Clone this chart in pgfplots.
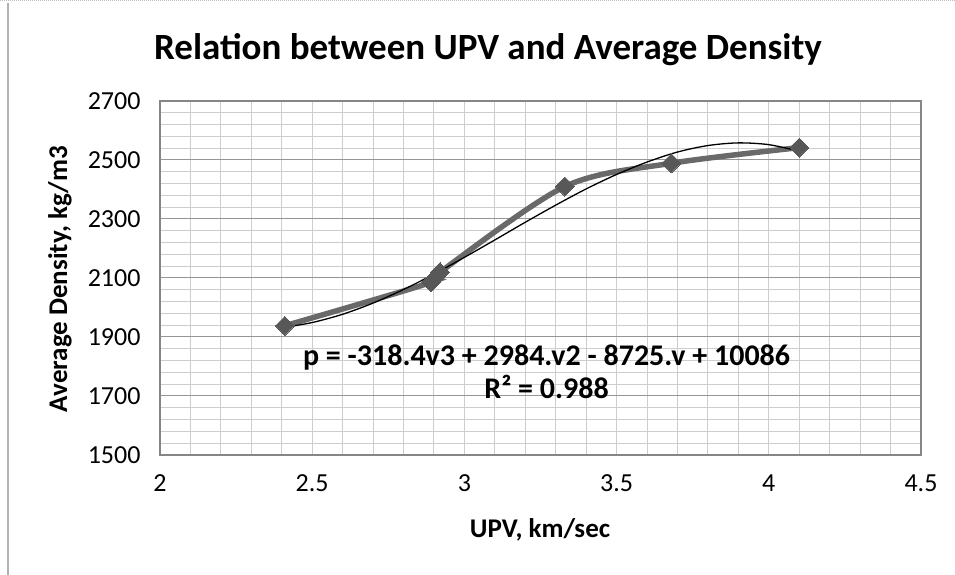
\documentclass[border=0pt]{standalone}
\usepackage{fontspec}
\setmainfont{Carlito}
\usepackage{pgfplots}
\pgfplotsset{compat=1.18}
\definecolor{gridmaj}{RGB}{150,150,150}
\definecolor{gridmin}{RGB}{205,205,205}
\definecolor{serie}{RGB}{105,105,105}
\definecolor{markc}{RGB}{88,88,88}
\definecolor{boxc}{RGB}{134,134,134}

\begin{document}
\begin{tikzpicture}[x=1pt,y=1pt]
\useasboundingbox (0,0) rectangle (955,575);
\fill[white] (0,0) rectangle (955,575);
\draw[gray!60, line width=1.2pt] (8,0) -- (8,572);
\draw[gray!50, densely dotted, line width=1pt] (0,574) -- (955,574);
\node[font=\bfseries\fontsize{37}{44}\selectfont] at (488,525) {Relation between UPV and Average Density};
\node[font=\bfseries\fontsize{27}{32}\selectfont] at (540,45) {UPV, km/sec};
\node[font=\bfseries\fontsize{27}{32}\selectfont, rotate=90] at (60,296) {Average Density, kg/m3};
\begin{axis}[at={(160pt,120pt)}, anchor=south west, scale only axis,
  width=761pt, height=354pt,
  xmin=2, xmax=4.5, ymin=1500, ymax=2700,
  xtick={2,2.5,3,3.5,4,4.5}, ytick={1500,1700,1900,2100,2300,2500,2700},
  minor x tick num=4, minor y tick num=4,
  xmajorgrids, ymajorgrids, xminorgrids, yminorgrids,
  x grid style={gridmin, line width=1pt},
  y grid style={gridmaj, line width=1pt},
  minor x grid style={gridmin, line width=1pt},
  minor y grid style={gridmin, line width=1pt},
  axis line style={boxc, line width=1.2pt},
  major tick length=0pt, minor tick length=0pt,
  tick label style={font=\fontsize{26}{30}\selectfont},
  /pgf/number format/assume math mode=true,
  /pgf/number format/1000 sep={},
  xticklabel style={yshift=-16pt},
  yticklabel style={xshift=-16pt},
  clip=false]
\addplot[serie, line width=5.5pt, smooth, tension=0.5,
  mark=square*, mark size=6.7pt,
  mark options={fill=markc, draw=markc, line width=0pt, rotate=45}]
  coordinates {(2.41,1938) (2.89,2085) (2.92,2120) (3.33,2410) (3.68,2489) (4.10,2542)};
\addplot[black, line width=1.3pt, smooth, no marks]
  coordinates {(2.41,1933) (2.5,1949) (2.6,1977) (2.7,2015) (2.8,2061) (2.9,2113)
  (3.0,2170) (3.1,2229) (3.2,2289) (3.3,2347) (3.4,2402) (3.5,2451) (3.6,2493)
  (3.7,2527) (3.8,2549) (3.9,2558) (4.0,2552) (4.1,2530)};
\node[font=\bfseries\fontsize{30}{33}\selectfont, align=center] at (axis cs:3.27,1783)
  {p = -318.4v3 + 2984.v2 - 8725.v + 10086\\R² = 0.988};
\end{axis}
\end{tikzpicture}
\end{document}
